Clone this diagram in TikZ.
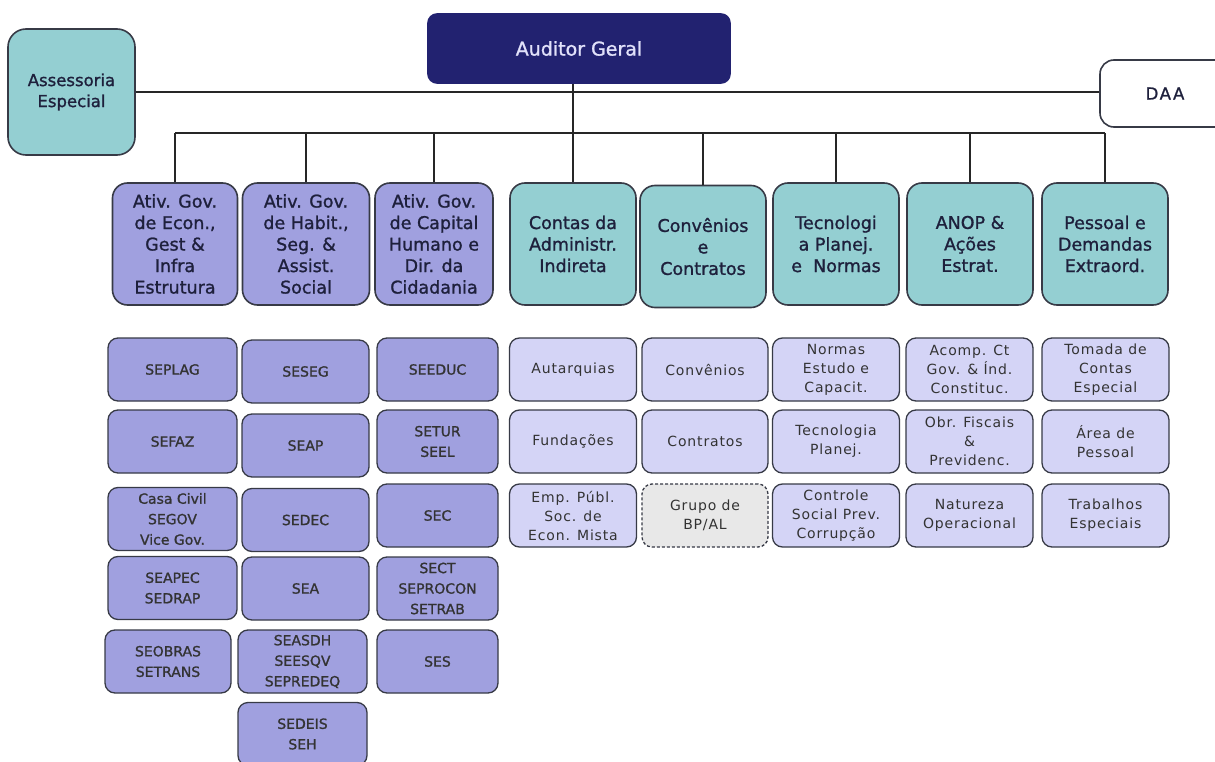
\documentclass[tikz,border=0pt]{standalone}
\usepackage{fontspec}
\setmainfont{DejaVu Sans}
\newfontfamily\spaced[LetterSpace=6]{DejaVu Sans}
\newfontfamily\heavy[FakeBold=1.2]{DejaVu Sans}
\newfontfamily\heavyspaced[FakeBold=1.2,LetterSpace=10]{DejaVu Sans}

\definecolor{chief}{RGB}{34,34,112}
\definecolor{chieftext}{RGB}{225,225,250}
\definecolor{aqua}{RGB}{148,207,210}
\definecolor{lilac}{RGB}{160,160,223}
\definecolor{pale}{RGB}{212,212,246}
\definecolor{grayish}{RGB}{232,232,232}
\definecolor{rim}{RGB}{55,58,70}
\definecolor{ink}{RGB}{30,32,60}

\begin{document}
\begin{tikzpicture}[x=1pt,y=-1pt,
  box/.style={draw=rim,line width=1.6pt,align=center,inner sep=0pt,text=ink},
  chiefbox/.style={box,draw=chief,fill=chief,text=chieftext,rounded corners=9pt,
    minimum width=302pt,minimum height=69pt,font=\heavy\fontsize{19}{23}\selectfont},
  staffbox/.style={box,rounded corners=18pt,minimum width=127pt,minimum height=126pt,
    font=\heavy\fontsize{16.5}{21}\selectfont},
  headbox/.style={box,rounded corners=15pt,minimum width=126pt,minimum height=122pt,
    font=\heavy\fontsize{17.5}{21.5}\selectfont},
  govhead/.style={headbox,fill=lilac},
  areahead/.style={headbox,fill=aqua},
  unitbox/.style={box,line width=1.3pt,rounded corners=10pt,minimum height=63pt,text=black!80},
  secbox/.style={unitbox,fill=lilac,font=\heavy\fontsize{14}{20.5}\selectfont},
  taskbox/.style={unitbox,fill=pale,minimum width=127pt,font=\spaced\fontsize{14}{19}\selectfont},
  link/.style={line width=2pt,black!85}]
\clip (0,0) rectangle (1215,762);

\node[chiefbox] (auditor) at (579,48.5) {Auditor Geral};
\node[staffbox,fill=aqua] (assessoria) at (71.5,92) {Assessoria\\Especial};
\node[box,fill=white,rounded corners=14pt,minimum width=130pt,minimum height=67pt,
  font=\heavyspaced\fontsize{16.5}{20}\selectfont] (daa) at (1165,93.5) {DAA};

% diretorias
\node[govhead,minimum width=125pt] (econ) at (175,244) {Ativ. Gov.\\de Econ.,\\Gest \&\\Infra\\Estrutura};
\node[govhead,minimum width=127pt] (habit) at (306,244) {Ativ. Gov.\\de Habit.,\\Seg. \&\\Assist.\\Social};
\node[govhead,minimum width=118pt] (capital) at (434,244) {Ativ. Gov.\\de Capital\\Humano e\\Dir. da\\Cidadania};
\node[areahead] (indireta) at (573,244) {Contas da\\Administr.\\Indireta};
\node[areahead] (convenios) at (703,246.5) {Convênios\\e\\Contratos};
\node[areahead] (tecnologia) at (836,244) {Tecnologi\\a Planej.\\e~~Normas};
\node[areahead] (anop) at (970,244) {ANOP \&\\Ações\\Estrat.};
\node[areahead] (pessoal) at (1105,244) {Pessoal e\\Demandas\\Extraord.};

\coordinate (bus) at (0,133);
\draw[link] (assessoria.east) -- (assessoria.east -| daa.west);
\draw[link] (indireta.north |- auditor.south) -- (indireta.north);
\draw[link] (econ.north |- bus) -- (pessoal.north |- bus);
\foreach \d in {econ,habit,capital,convenios,tecnologia,anop,pessoal}
  \draw[link] (\d.north |- bus) -- (\d.north);

% secretarias
\node[secbox,minimum width=129pt] (seplag) at (172.5,369.5) {SEPLAG};
\node[secbox,minimum width=129pt] (sefaz) at (172.5,441.5) {SEFAZ};
\node[secbox,minimum width=129pt] (casacivil) at (172.5,519) {Casa Civil\\SEGOV\\Vice Gov.};
\node[secbox,minimum width=129pt] (seapec) at (172.5,588) {SEAPEC\\SEDRAP};
\node[secbox,minimum width=126pt] (seobras) at (168,661.5) {SEOBRAS\\SETRANS};

\node[secbox,minimum width=127pt] (seseg) at (305.5,371.5) {SESEG};
\node[secbox,minimum width=127pt] (seap) at (305.5,445.5) {SEAP};
\node[secbox,minimum width=127pt] (sedec) at (305.5,520) {SEDEC};
\node[secbox,minimum width=127pt] (sea) at (305.5,588.5) {SEA};
\node[secbox,minimum width=129pt] (seasdh) at (302.5,661.5) {SEASDH\\SEESQV\\SEPREDEQ};
\node[secbox,minimum width=129pt] (sedeis) at (302.5,734) {SEDEIS\\SEH};

\node[secbox,minimum width=121pt] (seeduc) at (437.5,369.5) {SEEDUC};
\node[secbox,minimum width=121pt] (setur) at (437.5,441.5) {SETUR\\SEEL};
\node[secbox,minimum width=121pt] (sec) at (437.5,515.5) {SEC};
\node[secbox,minimum width=121pt] (sect) at (437.5,588.5) {SECT\\SEPROCON\\SETRAB};
\node[secbox,minimum width=121pt] (ses) at (437.5,661.5) {SES};

% coordenadorias
\node[taskbox] (autarquias) at (573,369.5) {Autarquias};
\node[taskbox] (fundacoes) at (573,441.5) {Fundações};
\node[taskbox] (empresas) at (573,515.5) {Emp. Públ.\\Soc. de\\Econ. Mista};

\node[taskbox,minimum width=126pt] (conv) at (705,369.5) {Convênios};
\node[taskbox,minimum width=126pt] (contratos) at (705,441.5) {Contratos};
\node[taskbox,minimum width=126pt,fill=grayish,dash pattern=on 3pt off 2pt] (grupo) at (705,515.5) {Grupo de\\BP/AL};

\node[taskbox] (normas) at (836,369.5) {Normas\\Estudo e\\Capacit.};
\node[taskbox] (tecplan) at (836,441.5) {Tecnologia\\Planej.};
\node[taskbox] (controle) at (836,515.5) {Controle\\Social Prev.\\Corrupção};

\node[taskbox] (acomp) at (969.5,369.5) {Acomp. Ct\\Gov. \& Índ.\\Constituc.};
\node[taskbox] (obr) at (969.5,441.5) {Obr. Fiscais\\\&\\Previdenc.};
\node[taskbox] (natureza) at (969.5,515.5) {Natureza\\Operacional};

\node[taskbox] (tomada) at (1105.5,369.5) {Tomada de\\Contas\\Especial};
\node[taskbox] (areapessoal) at (1105.5,441.5) {Área de\\Pessoal};
\node[taskbox] (trabalhos) at (1105.5,515.5) {Trabalhos\\Especiais};
\end{tikzpicture}
\end{document}
